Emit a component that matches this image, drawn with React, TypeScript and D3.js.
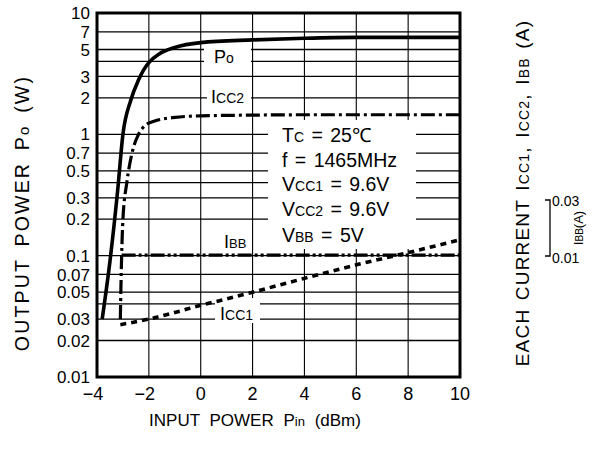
import React from 'react';
import * as d3 from 'd3';

// axis ticks
const pinTicks = [-4, -2, 0, 2, 4, 6, 8, 10];
const yTickLabels = [10, 7, 5, 3, 2, 1, 0.7, 0.5, 0.3, 0.2, 0.1, 0.07, 0.05, 0.03, 0.02, 0.01];
const yGridMantissas = [1, 2, 3, 4, 5, 7];
const yDecades = [0.01, 0.1, 1];

// curves (Pin dBm, value)
const poPin = [-3.8, -3.5, -3.2, -3.0, -2.7, -2.4, -2.2, -2.0, -1.6, -1.0, 0, 2, 4, 6, 8, 10];
const poVal = [0.03, 0.09, 0.35, 1.0, 1.9, 2.8, 3.4, 3.9, 4.6, 5.2, 5.7, 6.0, 6.2, 6.3, 6.3, 6.3];

const icc2Pin = [-3.1, -3.05, -3.0, -2.85, -2.65, -2.4, -2.15, -1.8, -1, 0, 2, 4, 6, 8, 10];
const icc2Val = [0.03, 0.1, 0.2, 0.4, 0.7, 1.0, 1.18, 1.28, 1.38, 1.42, 1.44, 1.45, 1.45, 1.45, 1.45];

const icc1Pin = [-3.1, -2, -1, 0, 1, 2, 4, 6, 8, 10];
const icc1Val = [0.027, 0.03, 0.034, 0.039, 0.044, 0.05, 0.065, 0.084, 0.106, 0.135];

const ibbPin = [-3.05, 0, 4, 8, 10];
const ibbVal = [0.101, 0.101, 0.101, 0.101, 0.101];

const W = 594;
const H = 450;
const m = { left: 97, right: 460, top: 13, bottom: 377 };
const font = '"Liberation Sans", Arial, sans-serif';

const x = d3.scaleLinear().domain([-4, 10]).range([m.left, m.right]);
const y = d3.scaleLog().domain([0.01, 10]).range([m.bottom, m.top]);

const line = d3
  .line<[number, number]>()
  .x(d => x(d[0]))
  .y(d => y(d[1]))
  .curve(d3.curveMonotoneX);

const zip = (a: number[], b: number[]) => a.map((v, i) => [v, b[i]] as [number, number]);

const fmt = (v: number) => (v < 0 ? `−${Math.abs(v)}` : `${v}`);

export default function App() {
  const gridY: number[] = [];
  yDecades.forEach(d => yGridMantissas.forEach(k => gridY.push(d * k)));
  gridY.push(10);

  const legend = [
    { main: 'T', sub: 'C', rest: ' = 25℃' },
    { main: 'f = 1465MHz', sub: '', rest: '' },
    { main: 'V', sub: 'CC1', rest: ' = 9.6V' },
    { main: 'V', sub: 'CC2', rest: ' = 9.6V' },
    { main: 'V', sub: 'BB', rest: ' = 5V' },
  ];
  const legendY = [142, 167, 191, 216, 242];

  return (
    <svg width={W} height={H} style={{ position: 'absolute', left: 0, top: 0, background: '#fff' }} fontFamily={font}>
      {/* grid */}
      <g stroke="#000" strokeWidth={1.3}>
        {gridY.map(v => (
          <line key={'h' + v} x1={m.left} x2={m.right} y1={y(v)} y2={y(v)} />
        ))}
        {pinTicks.slice(1, -1).map(v => (
          <line key={'v' + v} x1={x(v)} x2={x(v)} y1={m.top} y2={m.bottom} strokeWidth={1.1} />
        ))}
      </g>

      {/* label knock-outs */}
      <g fill="#fff">
        <rect x={204} y={41} width={47} height={25} />
        <rect x={207} y={87} width={44} height={20} />
        <rect x={268} y={120} width={148} height={129} />
        <rect x={215} y={298} width={45} height={25} />
      </g>

      {/* curves */}
      <g fill="none" stroke="#000">
        <path d={line(zip(poPin, poVal)) ?? ''} strokeWidth={3.6} />
        <path d={line(zip(icc2Pin, icc2Val)) ?? ''} strokeWidth={3.2} strokeDasharray="14,4,3,4" />
        <path d={line(zip(icc1Pin, icc1Val)) ?? ''} strokeWidth={3.6} strokeDasharray="6,5" />
        <path d={line(zip(ibbPin, ibbVal)) ?? ''} strokeWidth={3.4} strokeDasharray="14,3,3,3,3,3" />
      </g>

      {/* frame */}
      <rect x={m.left} y={m.top} width={m.right - m.left} height={m.bottom - m.top} fill="none" stroke="#000" strokeWidth={3} />

      {/* y tick labels */}
      <g fontSize={17} textAnchor="end" fill="#000">
        {yTickLabels.map(v => (
          <text key={v} x={90} y={y(v)} dy="0.36em">
            {v}
          </text>
        ))}
      </g>

      {/* x tick labels */}
      <g fontSize={18} textAnchor="middle" fill="#000">
        {pinTicks.map(v => (
          <text key={v} x={x(v) - (v < 0 ? 4 : 0)} y={400}>
            {fmt(v)}
          </text>
        ))}
      </g>

      {/* curve labels */}
      <g fontSize={18} fill="#000">
        <text x={214} y={63}>
          P<tspan fontSize={14}>o</tspan>
        </text>
        <text x={211} y={103}>
          I<tspan fontSize={14}>CC2</tspan>
        </text>
        <text x={224} y={248}>
          I<tspan fontSize={13}>BB</tspan>
        </text>
        <text x={220} y={320}>
          I<tspan fontSize={14}>CC1</tspan>
        </text>
      </g>

      {/* conditions */}
      <g fontSize={19.5} fill="#000" wordSpacing={2}>
        {legend.map((l, i) => (
          <text key={i} x={282} y={legendY[i]}>
            {l.main}
            {l.sub && <tspan fontSize={14}>{l.sub}</tspan>}
            {l.rest}
          </text>
        ))}
      </g>

      {/* axis titles */}
      <text x={255} y={426} fontSize={17} textAnchor="middle" fill="#000" wordSpacing={5}>
        INPUT POWER P<tspan fontSize={13}>in</tspan> (dBm)
      </text>
      <text transform="translate(29,213) rotate(-90)" fontSize={19.5} textAnchor="middle" fill="#000" letterSpacing={2.2} wordSpacing={4}>
        OUTPUT POWER P<tspan fontSize={15}>o</tspan> (W)
      </text>
      <text transform="translate(529,193) rotate(-90)" fontSize={19} textAnchor="middle" fill="#000" letterSpacing={1.2} wordSpacing={2}>
        EACH CURRENT I<tspan fontSize={14}>CC1</tspan>, I<tspan fontSize={14}>CC2</tspan>, I<tspan fontSize={14}>BB</tspan> (A)
      </text>

      {/* IBB secondary scale */}
      <path d="M545,200 H550 V256 H545" fill="none" stroke="#000" strokeWidth={1.3} />
      <g fontSize={14} fill="#000">
        <text x={552} y={206}>0.03</text>
        <text x={552} y={263}>0.01</text>
      </g>
      <text transform="translate(583,228) rotate(-90)" fontSize={13} textAnchor="middle" fill="#000">
        I<tspan fontSize={10}>BB</tspan>(A)
      </text>
    </svg>
  );
}
